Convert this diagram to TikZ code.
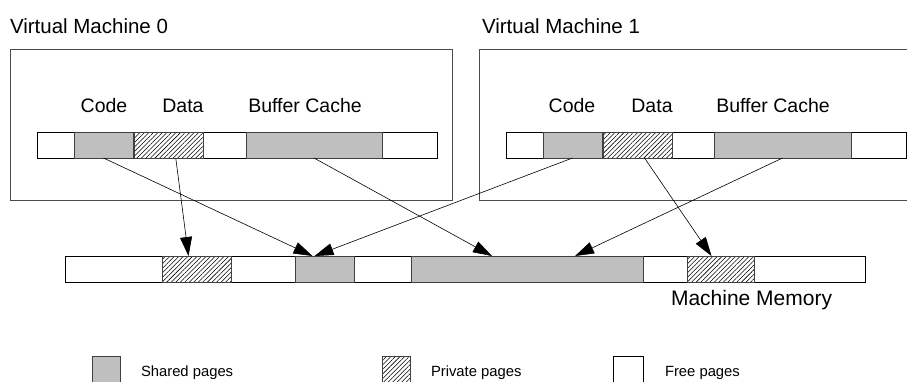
\documentclass[tikz,border=0pt]{standalone}
\usepackage{fontspec}
\setmainfont{Liberation Sans}
\usetikzlibrary{arrows.meta, patterns.meta}

\begin{document}
\begin{tikzpicture}[x=1pt, y=-1pt,
    every node/.style={inner sep=0pt, outer sep=0pt},
    bar/.style={draw=black, line width=0.9pt, fill=white, anchor=north west, minimum height=26pt},
    shared/.style={draw=black!75, line width=0.8pt, fill=black!25, anchor=north west, minimum height=26pt},
    private/.style={draw=black!75, line width=0.8pt, anchor=north west, minimum height=26pt,
        pattern={Lines[angle=45, distance=3.2pt, line width=0.55pt]}},
    vmbox/.style={draw=black!70, line width=1pt},
    lbl/.style={font=\fontsize{19.5}{23}\selectfont},
    title/.style={font=\fontsize{20.5}{24}\selectfont, anchor=west},
    legend/.style={font=\fontsize{14.8}{17}\selectfont, anchor=base west},
    map/.style={-{Triangle[length=19pt, width=12pt]}, line width=0.6pt}]
    \useasboundingbox (0,0) rectangle (907,381);
    \clip (0,0) rectangle (907,381);
    % virtual machine 0
    \node[title] (vm0) at (10,26) {Virtual Machine 0};
    \draw[vmbox] (10,49) rectangle (452,200);
    \node[lbl] (lc0) at (104,106) {Code};
    \node[lbl] (ld0) at (183,106) {Data};
    \node[lbl] (lb0) at (305,106) {Buffer Cache};
    \node[bar, minimum width=400pt] (bar0) at (37,132) {};
    \node[shared, minimum width=59pt] (c0) at (74,132) {};
    \node[private, minimum width=68.5pt] (d0) at (134.5,132) {};
    \node[shared, minimum width=136pt] (b0) at (246,132) {};
    % virtual machine 1
    \node[title] (vm1) at (482,26) {Virtual Machine 1};
    \draw[vmbox] (479,49) rectangle (915,200);
    \node[lbl] (lc1) at (572,106) {Code};
    \node[lbl] (ld1) at (652,106) {Data};
    \node[lbl] (lb1) at (773,106) {Buffer Cache};
    \node[bar, minimum width=400pt] (bar1) at (506,132) {};
    \node[shared, minimum width=59pt] (c1) at (543,132) {};
    \node[private, minimum width=69pt] (d1) at (603,132) {};
    \node[shared, minimum width=137pt] (b1) at (714,132) {};
    % machine memory
    \node[bar, minimum width=800pt] (mem) at (65,256) {};
    \node[private, minimum width=69pt] (p0) at (162,256) {};
    \node[shared, minimum width=59pt] (s0) at (295,256) {};
    \node[shared, minimum width=232pt] (s1) at (411,256) {};
    \node[private, minimum width=67pt] (p1) at (687,256) {};
    \node[font=\fontsize{21}{25}\selectfont, anchor=base west] (lmem) at (671,305) {Machine Memory};
    % mappings
    \draw[map] (c0.south) -- ([xshift=-12pt]s0.north);
    \draw[map] ([xshift=7pt]d0.south) -- ([xshift=-8pt]p0.north);
    \draw[map] (b0.south) -- ([xshift=-35pt]s1.north);
    \draw[map] (c1.south) -- ([xshift=-10pt]s0.north);
    \draw[map] ([xshift=7pt]d1.south) -- ([xshift=-9pt]p1.north);
    \draw[map] (b1.south) -- ([xshift=48pt]s1.north);
    % legend
    \draw[shared] (92,356) rectangle (120,390);
    \node[legend] (kshared) at (141,376) {Shared pages};
    \draw[private] (382,356) rectangle (410,390);
    \node[legend] (kprivate) at (431,376) {Private pages};
    \draw[bar] (613,356) rectangle (643,390);
    \node[legend] (kfree) at (665,376) {Free pages};
\end{tikzpicture}
\end{document}
